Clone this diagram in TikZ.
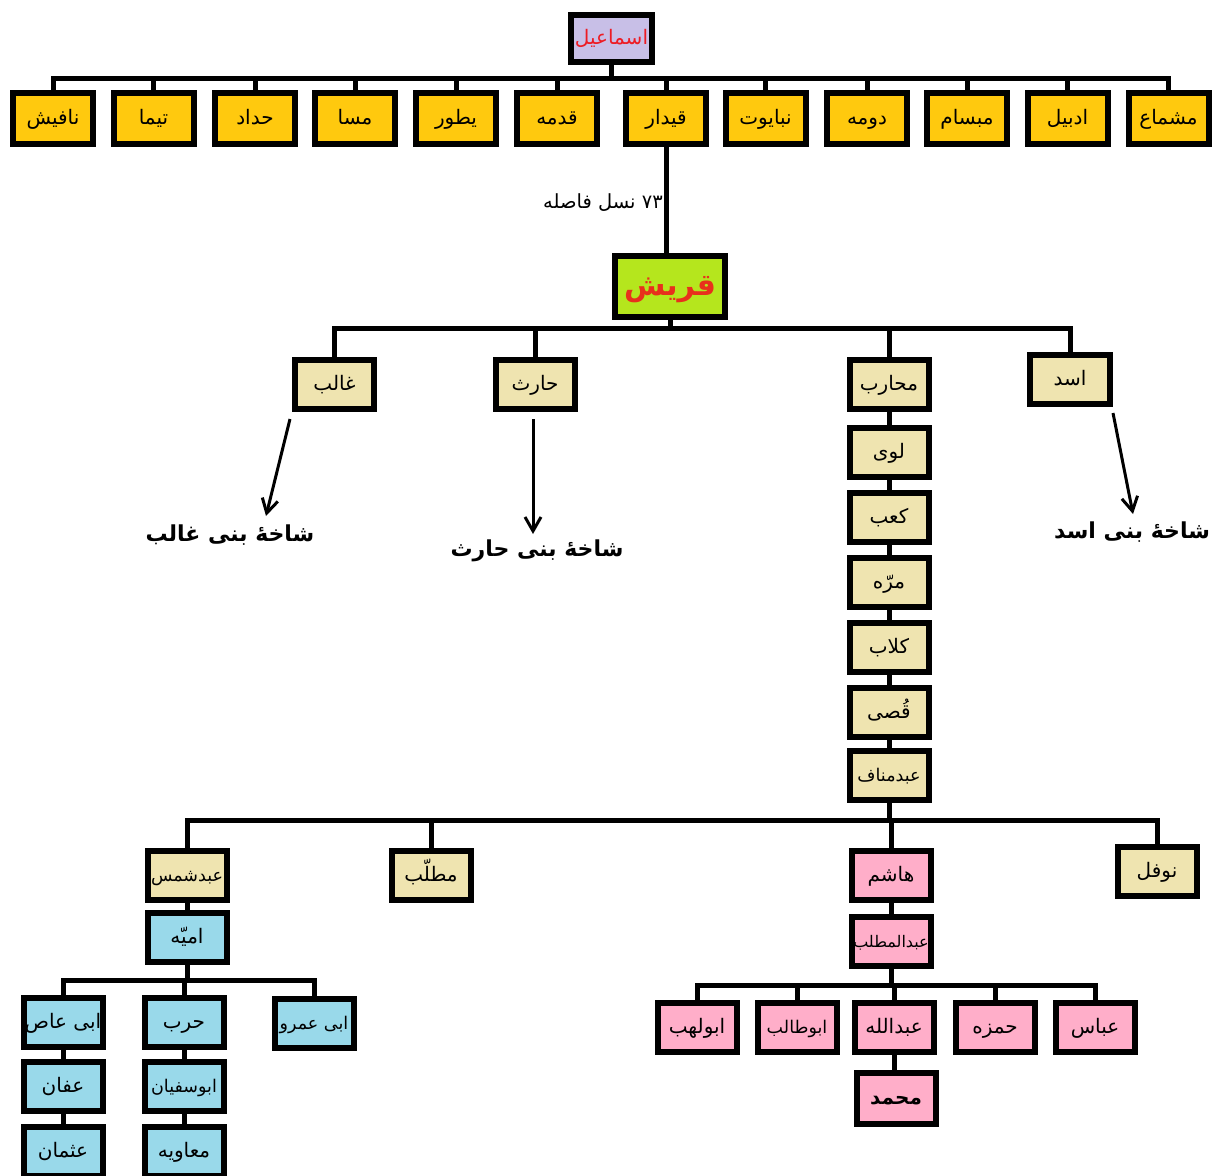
\documentclass[tikz,border=0pt]{standalone}
\usepackage{fontspec}
\usetikzlibrary{arrows.meta}
\TeXXeTstate=1
\newfontfamily\fafont[Script=Arabic]{DejaVu Sans}
\newcommand\rl[1]{\beginR #1\endR}
\definecolor{cGold}{HTML}{FFC90E}
\definecolor{cTan}{HTML}{EFE4B0}
\definecolor{cLime}{HTML}{B5E61D}
\definecolor{cLav}{HTML}{C8BFE7}
\definecolor{cBlue}{HTML}{99D9EA}
\definecolor{cRose}{HTML}{FFAEC9}
\definecolor{cRed}{HTML}{ED1C24}
\definecolor{cRedB}{HTML}{E8301C}
\tikzset{
  box/.style={draw=black, line width=6pt, rectangle, minimum width=79pt, minimum height=49pt, inner sep=0pt, text height=15pt, text depth=3pt, font=\fontsize{20}{24}\selectfont\fafont, text=black},
  longtxt/.style={font=\fontsize{17.5}{21}\selectfont\fafont},
  topbox/.style={box, fill=cGold, minimum width=80pt, minimum height=51pt},
  tanbox/.style={box, fill=cTan},
  bluebox/.style={box, fill=cBlue},
  rosebox/.style={box, fill=cRose},
  conn/.style={draw=black, line width=5pt},
  arr/.style={draw=black, line width=3pt, -{Straight Barb[length=14pt,width=16pt]}},
  branch/.style={font=\fontsize{22}{26}\selectfont\fafont\bfseries, text=black, inner sep=0pt},
}
\begin{document}
\begin{tikzpicture}[x=1pt,y=-1pt]
\useasboundingbox (0,0) rectangle (1212,1175);
\fill[white] (0,0) rectangle (1212,1175);
\clip (0,0) rectangle (1212,1175);

% top
\node[box, fill=cLav, minimum width=81pt, minimum height=47pt, text=cRed] (ismail) at (611.5,38.5) {\rl{اسماعیل}};
\node[topbox] (nafish) at (53,118.5) {\rl{نافیش}};
\node[topbox] (tayma) at (153.5,118.5) {\rl{تیما}};
\node[topbox] (haddad) at (255,118.5) {\rl{حداد}};
\node[topbox] (massa) at (355,118.5) {\rl{مسا}};
\node[topbox] (yatur) at (456,118.5) {\rl{یطور}};
\node[topbox] (qedma) at (557,118.5) {\rl{قدمه}};
\node[topbox] (qeydar) at (666,118.5) {\rl{قیدار}};
\node[topbox] (nabayot) at (765.5,118.5) {\rl{نبایوت}};
\node[topbox] (duma) at (867,118.5) {\rl{دومه}};
\node[topbox] (mebsam) at (967,118.5) {\rl{مبسام}};
\node[topbox] (adbil) at (1067.5,118.5) {\rl{ادبیل}};
\node[topbox] (mashma) at (1168.5,118.5) {\rl{مشماع}};

\coordinate (busA) at (611.5,78);
\draw[conn] (ismail.south) -- (busA);
\foreach \n in {nafish,tayma,haddad,massa,yatur,qedma,qeydar,nabayot,duma,mebsam,adbil,mashma}
  \draw[conn] (busA) -| (\n.north);

% qoraysh
\node[box, fill=cLime, minimum width=110pt, minimum height=61pt, text height=22pt, text depth=4pt, text=cRedB, font=\fontsize{30}{34}\selectfont\fafont\bfseries] (qoraysh) at (670,286.5) {\rl{قریش}};
\draw[conn] (qeydar.south) -- (qeydar.south |- qoraysh.north);
\node[anchor=east, inner sep=0pt, font=\fontsize{19.5}{23}\selectfont\fafont] (gap) at (663,203) {\rl{\beginL ۷۳\endL{} نسل فاصله}};

% level 2
\node[tanbox] (ghaleb) at (334.5,384.5) {\rl{غالب}};
\node[tanbox] (hareth) at (535,384.5) {\rl{حارث}};
\node[tanbox] (moharib) at (889,384.5) {\rl{محارب}};
\node[tanbox, minimum width=80pt] (asad) at (1070,379.5) {\rl{اسد}};
\coordinate (busB) at (670,328);
\draw[conn] (qoraysh.south) -- (busB);
\foreach \n in {ghaleb,hareth,moharib,asad}
  \draw[conn] (busB) -| (\n.north);

% branches
\node[branch] (bghaleb) at (230,535) {\rl{شاخهٔ بنی غالب}};
\node[branch] (bhareth) at (537,551) {\rl{شاخهٔ بنی حارث}};
\node[branch] (basad) at (1132,532) {\rl{شاخهٔ بنی اسد}};
\coordinate (ga) at (290,419); \coordinate (gb) at (266,516);
\coordinate (ha) at (533,419); \coordinate (hb) at (533,534);
\coordinate (aa) at (1113,413); \coordinate (ab) at (1133,514);
\draw[arr] (ga) -- (gb);
\draw[arr] (ha) -- (hb);
\draw[arr] (aa) -- (ab);

% chain
\node[tanbox] (loay) at (889,452) {\rl{لوی}};
\node[tanbox] (kaab) at (889,517) {\rl{کعب}};
\node[tanbox] (morra) at (889,582) {\rl{مرّه}};
\node[tanbox] (kelab) at (889,647) {\rl{کلاب}};
\node[tanbox] (qosay) at (889,712) {\rl{قُصی}};
\node[tanbox, longtxt] (abdmanaf) at (889,775) {\rl{عبدمناف}};
\draw[conn] (moharib.south) -- (loay.north);
\draw[conn] (loay.south) -- (kaab.north);
\draw[conn] (kaab.south) -- (morra.north);
\draw[conn] (morra.south) -- (kelab.north);
\draw[conn] (kelab.south) -- (qosay.north);
\draw[conn] (qosay.south) -- (abdmanaf.north);

% level 3
\node[tanbox, longtxt] (abdshams) at (187,875) {\rl{عبدشمس}};
\node[tanbox] (mottaleb) at (431,875) {\rl{مطلّب}};
\node[rosebox] (hashem) at (891,875) {\rl{هاشم}};
\node[tanbox] (nowfal) at (1157,871) {\rl{نوفل}};
\coordinate (busC) at (889,820);
\draw[conn] (abdmanaf.south) -- (busC);
\foreach \n in {abdshams,mottaleb,hashem,nowfal}
  \draw[conn] (busC) -| (\n.north);

% umayya branch
\node[bluebox] (omayya) at (187,937) {\rl{امیّه}};
\draw[conn] (abdshams.south) -- (omayya.north);
\node[bluebox] (abiaas) at (63,1022) {\rl{ابی عاص}};
\node[bluebox] (harb) at (184,1022) {\rl{حرب}};
\node[bluebox, longtxt] (abiamr) at (314,1023) {\rl{ابی عمرو}};
\coordinate (busD) at (187,980);
\draw[conn] (omayya.south) -- (busD);
\foreach \n in {abiaas,harb,abiamr}
  \draw[conn] (busD) -| (\n.north);
\node[bluebox] (affan) at (63,1086) {\rl{عفان}};
\node[bluebox, longtxt] (abusofyan) at (184,1086) {\rl{ابوسفیان}};
\node[bluebox] (othman) at (63,1151) {\rl{عثمان}};
\node[bluebox] (moawia) at (184,1151) {\rl{معاویه}};
\draw[conn] (abiaas.south) -- (affan.north);
\draw[conn] (affan.south) -- (othman.north);
\draw[conn] (harb.south) -- (abusofyan.north);
\draw[conn] (abusofyan.south) -- (moawia.north);

% hashem branch
\node[rosebox, font=\fontsize{16}{20}\selectfont\fafont] (abdolmottaleb) at (891,941) {\rl{عبدالمطلب}};
\draw[conn] (hashem.south) -- (abdolmottaleb.north);
\node[rosebox] (abulahab) at (697,1027) {\rl{ابولهب}};
\node[rosebox, longtxt] (abutaleb) at (797,1027) {\rl{ابوطالب}};
\node[rosebox] (abdollah) at (894,1027) {\rl{عبدالله}};
\node[rosebox] (hamze) at (995,1027) {\rl{حمزه}};
\node[rosebox] (abbas) at (1095,1027) {\rl{عباس}};
\coordinate (busE) at (891,985);
\draw[conn] (abdolmottaleb.south) -- (busE);
\foreach \n in {abulahab,abutaleb,abdollah,hamze,abbas}
  \draw[conn] (busE) -| (\n.north);
\node[rosebox, minimum height=51pt, font=\fontsize{20}{24}\selectfont\fafont\bfseries] (mohammad) at (896,1098) {\rl{محمد}};
\draw[conn] (abdollah.south) -- (abdollah.south |- mohammad.north);
\end{tikzpicture}
\end{document}
